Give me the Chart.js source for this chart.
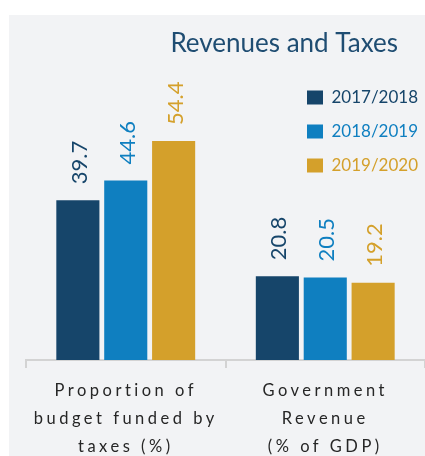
<!DOCTYPE html>
<html>
<head>
<meta charset="utf-8">
<script src="https://cdn.jsdelivr.net/npm/chart.js@4/dist/chart.umd.min.js"></script>
<style>
  html, body { margin: 0; padding: 0; background: #ffffff; width: 425px; height: 456px; overflow: hidden; }
  #panel { position: absolute; left: 9px; top: 15px; width: 416px; height: 441px; background: #f2f3f5; }
  canvas { display: block; }
</style>
</head>
<body>
<div id="panel"><canvas id="c" width="416" height="441"></canvas></div>
<script>
const categories = [
  ["Proportion of", "budget funded by", "taxes (%)"],
  ["Government", "Revenue", "(% of GDP)"]
];
const seriesNames = ["2017/2018", "2018/2019", "2019/2020"];
const values2017 = [39.7, 20.8];
const values2018 = [44.6, 20.5];
const values2019 = [54.4, 19.2];
const seriesColors = ["#16456a", "#0f7fc0", "#d4a02b"];

const FONT = "Lato, 'Open Sans', sans-serif";

const valueLabels = {
  id: 'valueLabels',
  afterDatasetsDraw(chart) {
    const ctx = chart.ctx;
    chart.data.datasets.forEach((ds, i) => {
      const meta = chart.getDatasetMeta(i);
      meta.data.forEach((bar, j) => {
        ctx.save();
        ctx.translate(bar.x + 2, bar.y - 16);
        ctx.rotate(-Math.PI / 2);
        ctx.font = "22px " + FONT;
        ctx.fillStyle = ds.backgroundColor;
        ctx.textAlign = 'left';
        ctx.textBaseline = 'middle';
        ctx.fillText(ds.data[j].toFixed(1), 0, 0);
        ctx.restore();
      });
    });
  }
};

const placeBoxes = {
  id: 'placeBoxes',
  afterLayout(chart) {
    if (chart.titleBlock) { chart.titleBlock.right = 389; }
    if (chart.legend) { chart.legend.left = 281; chart.legend.top = 57; chart.legend.bottom = 200; }
    const xs = chart.scales.x;
    if (xs && !xs._spaced) {
      const orig = xs.drawLabels;
      xs.drawLabels = function (area) {
        const ctx = this.ctx;
        ctx.save();
        ctx.letterSpacing = '3.5px';
        orig.call(this, area);
        ctx.restore();
      };
      xs._spaced = true;
    }
  }
};

new Chart(document.getElementById('c'), {
  type: 'bar',
  data: {
    labels: categories,
    datasets: [
      { label: seriesNames[0], data: values2017, backgroundColor: seriesColors[0] },
      { label: seriesNames[1], data: values2018, backgroundColor: seriesColors[1] },
      { label: seriesNames[2], data: values2019, backgroundColor: seriesColors[2] }
    ]
  },
  options: {
    responsive: false,
    animation: false,
    devicePixelRatio: 1,
    layout: { padding: { left: 17, right: 0, top: 0, bottom: 0 } },
    datasets: { bar: { categoryPercentage: 0.72, barPercentage: 0.9, borderWidth: 0 } },
    scales: {
      x: {
        grid: { display: true, drawOnChartArea: false, drawTicks: true, tickLength: 8, color: '#d3d3d3', lineWidth: 2 },
        border: { display: true, color: '#d3d3d3', width: 2 },
        ticks: {
          autoSkip: false, maxRotation: 0, minRotation: 0, padding: 9,
          color: '#262626',
          font: { family: FONT, size: 16.5, lineHeight: 1.7 }
        },
        afterFit(scale) { scale.height = 96; }
      },
      y: { display: false, min: 0, max: 70 }
    },
    plugins: {
      title: {
        display: true,
        text: 'Revenues and Taxes',
        align: 'end',
        color: '#1f4d72',
        font: { family: FONT, size: 26, weight: 'normal', lineHeight: 1.2 },
        padding: { top: 13, bottom: 19 }
      },
      legend: {
        display: true,
        position: 'chartArea',
        align: 'start',
        labels: {
          boxWidth: 16,
          boxHeight: 14,
          padding: 17,
          font: { family: FONT, size: 17 },
          generateLabels(chart) {
            const items = Chart.defaults.plugins.legend.labels.generateLabels(chart);
            items.forEach((it, i) => { it.fontColor = seriesColors[i]; it.lineWidth = 0; it.strokeStyle = 'transparent'; });
            return items;
          }
        }
      },
      tooltip: { enabled: false }
    }
  },
  plugins: [valueLabels, placeBoxes]
});
</script>
</body>
</html>
